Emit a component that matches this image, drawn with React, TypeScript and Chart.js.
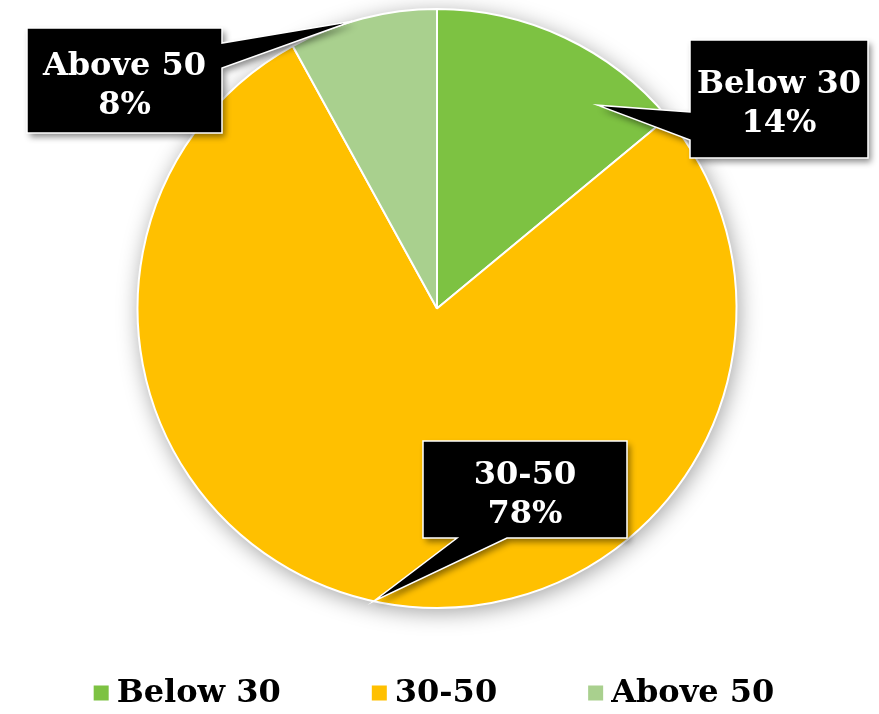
import React, { useEffect, useRef } from "react";
import { Chart, registerables } from "chart.js";

Chart.register(...registerables);

// Age groups and their share of respondents (%)
const categories = ["Below 30", "30-50", "Above 50"];
const shares = [14, 78, 8];
const sliceColors = ["#7DC242", "#FFC000", "#A9D08E"];

const LABEL_FONT = 'bold 32px "DejaVu Serif", serif';

// Callout boxes: rectangle, the box side the pointer leaves from, the pointer base
// along that side, and where the pointer lands inside the slice
// (fraction of the slice's sweep, fraction of the radius).
type Callout = {
  box: [number, number, number, number];
  side: "left" | "right" | "bottom";
  base: [number, number];
  anchor: [number, number];
};

const callouts: Callout[] = [
  { box: [690, 40, 178, 118], side: "left", base: [112, 140], anchor: [0.76, 0.865] },
  { box: [423, 441, 204, 97], side: "bottom", base: [457, 507], anchor: [0.505, 1.0] },
  { box: [27, 28, 195, 105], side: "right", base: [43, 68], anchor: [0.43, 1.0] },
];

function calloutPath(ctx: CanvasRenderingContext2D, c: Callout, tip: { x: number; y: number }) {
  const [x, y, w, h] = c.box;
  const r = x + w;
  const b = y + h;
  ctx.beginPath();
  ctx.moveTo(x, y);
  ctx.lineTo(r, y);
  if (c.side === "right") {
    ctx.lineTo(r, c.base[0]);
    ctx.lineTo(tip.x, tip.y);
    ctx.lineTo(r, c.base[1]);
  }
  ctx.lineTo(r, b);
  if (c.side === "bottom") {
    ctx.lineTo(c.base[1], b);
    ctx.lineTo(tip.x, tip.y);
    ctx.lineTo(c.base[0], b);
  }
  ctx.lineTo(x, b);
  if (c.side === "left") {
    ctx.lineTo(x, c.base[1]);
    ctx.lineTo(tip.x, tip.y);
    ctx.lineTo(x, c.base[0]);
  }
  ctx.closePath();
}

// Soft grey shadow under the whole pie
const pieShadow = {
  id: "pieShadow",
  beforeDatasetsDraw(chart: any) {
    const arc = chart.getDatasetMeta(0).data[0];
    if (!arc) return;
    const { x, y, outerRadius } = arc.getProps(["x", "y", "outerRadius"], true);
    const ctx = chart.ctx;
    ctx.save();
    ctx.shadowColor = "rgba(0,0,0,0.38)";
    ctx.shadowBlur = 22;
    ctx.shadowOffsetX = 2;
    ctx.shadowOffsetY = 4;
    ctx.beginPath();
    ctx.arc(x, y, outerRadius, 0, Math.PI * 2);
    ctx.fillStyle = "#ffffff";
    ctx.fill();
    ctx.restore();
  },
};

// Black callouts with category name and percentage
const calloutLabels = {
  id: "calloutLabels",
  afterDatasetsDraw(chart: any) {
    const ctx = chart.ctx;
    const meta = chart.getDatasetMeta(0);
    meta.data.forEach((arc: any, i: number) => {
      const c = callouts[i];
      const p = arc.getProps(["x", "y", "startAngle", "endAngle", "outerRadius"], true);
      const a = p.startAngle + c.anchor[0] * (p.endAngle - p.startAngle);
      const tip = {
        x: p.x + Math.cos(a) * p.outerRadius * c.anchor[1],
        y: p.y + Math.sin(a) * p.outerRadius * c.anchor[1],
      };
      ctx.save();
      calloutPath(ctx, c, tip);
      ctx.shadowColor = "rgba(0,0,0,0.45)";
      ctx.shadowBlur = 6;
      ctx.shadowOffsetX = 3;
      ctx.shadowOffsetY = 4;
      ctx.fillStyle = "#000000";
      ctx.fill();
      ctx.shadowColor = "transparent";
      ctx.lineWidth = 1.5;
      ctx.strokeStyle = "#ffffff";
      ctx.stroke();

      const [bx, by, bw, bh] = c.box;
      const cx = bx + bw / 2;
      const cy = by + bh / 2;
      ctx.fillStyle = "#ffffff";
      ctx.font = LABEL_FONT;
      ctx.textAlign = "center";
      ctx.textBaseline = "alphabetic";
      ctx.fillText(chart.data.labels[i], cx, cy - 6);
      ctx.fillText(chart.data.datasets[0].data[i] + "%", cx, cy + 33);
      ctx.restore();
    });
  },
};

// Legend row under the pie
const bottomLegend = {
  id: "bottomLegend",
  afterDraw(chart: any) {
    const ctx = chart.ctx;
    const labels: string[] = chart.data.labels;
    const colors: string[] = chart.data.datasets[0].backgroundColor;
    const box = 15;
    const gapText = 8;
    const gapItem = 91;
    ctx.save();
    ctx.font = LABEL_FONT;
    ctx.textBaseline = "middle";
    ctx.textAlign = "left";
    const widths = labels.map((l) => box + gapText + ctx.measureText(l).width);
    const total = widths.reduce((s, w) => s + w, 0) + gapItem * (labels.length - 1);
    const centerX = (chart.chartArea.left + chart.chartArea.right) / 2 - 3;
    const yMid = 694;
    let x = centerX - total / 2;
    labels.forEach((l, i) => {
      ctx.fillStyle = colors[i];
      ctx.fillRect(x, yMid - box / 2 - 1, box, box);
      ctx.fillStyle = "#000000";
      ctx.fillText(l, x + box + gapText, yMid);
      x += widths[i] + gapItem;
    });
    ctx.restore();
  },
};

export default function App() {
  const canvasRef = useRef<HTMLCanvasElement | null>(null);

  useEffect(() => {
    document.body.style.margin = "0";
    const canvas = canvasRef.current;
    if (!canvas) return;
    const chart = new Chart(canvas, {
      type: "pie",
      data: {
        labels: categories,
        datasets: [
          {
            data: shares,
            backgroundColor: sliceColors,
            borderColor: "#ffffff",
            borderWidth: 2,
          },
        ],
      },
      options: {
        animation: false,
        responsive: false,
        maintainAspectRatio: false,
        layout: { padding: { top: 8, bottom: 105, left: 0, right: 5 } },
        plugins: {
          legend: { display: false },
          tooltip: { enabled: false },
        },
      },
      plugins: [pieShadow, calloutLabels, bottomLegend],
    });
    return () => chart.destroy();
  }, []);

  return (
    <div style={{ width: 879, height: 714, background: "#ffffff" }}>
      <canvas ref={canvasRef} width={879} height={714} />
    </div>
  );
}
